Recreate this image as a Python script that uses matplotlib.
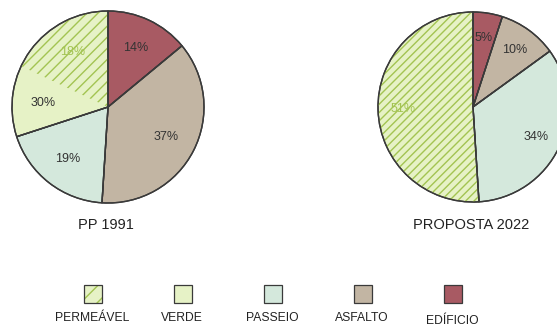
import matplotlib.pyplot as plt
from matplotlib.patches import Rectangle

plt.rcParams['font.family'] = ['Liberation Sans', 'DejaVu Sans']
plt.rcParams['hatch.linewidth'] = 1.0

W, H = 557, 327

# dados
categorias = ['PERMEÁVEL', 'VERDE', 'PASSEIO', 'ASFALTO', 'EDÍFICIO']
cores = {'VERDE': '#e6f2c6', 'PASSEIO': '#d4e8dc', 'ASFALTO': '#c2b5a3', 'EDÍFICIO': '#a85a63'}
verde_hachura = '#a3c452'
borda = '#3a3a3a'

# PP 1991 (sentido horário a partir do topo)
pp1991_cat = ['EDÍFICIO', 'ASFALTO', 'PASSEIO', 'VERDE']
pp1991_val = [14, 37, 19, 30]
pp1991_perm = 18   # parte permeável dentro do verde

# PROPOSTA 2022
prop_cat = ['EDÍFICIO', 'ASFALTO', 'PASSEIO', 'VERDE']
prop_val = [5, 10, 34, 51]
prop_perm = 51

titulos = ['PP 1991', 'PROPOSTA 2022']


def pizza(ax, centro, raio, cats, vals, perm, titulo, dist, hachura):
    cx, cy = centro
    # fatias com borda
    ax.pie(vals, colors=[cores[c] for c in cats], startangle=90, counterclock=False,
           center=(cx, H - cy), radius=raio,
           wedgeprops=dict(edgecolor=borda, linewidth=1.0))
    # fatias para rótulos: o verde é separado em permeável (hachurado) e resto
    resto = vals[-1] - perm
    sub_vals = vals[:-1] + ([resto] if resto > 0 else []) + [perm]
    sub_lbl = ['%d%%' % v for v in vals[:-1]] + (['%d%%' % vals[-1]] if resto > 0 else []) + ['%d%%' % perm]
    wedges, texts = ax.pie(sub_vals, labels=sub_lbl, labeldistance=dist, startangle=90,
                           counterclock=False, center=(cx, H - cy), radius=raio,
                           colors=['none'] * len(sub_vals),
                           wedgeprops=dict(linewidth=0),
                           textprops=dict(fontsize=9, color='#333333', ha='center', va='center'))
    wedges[-1].set_hatch(hachura)
    wedges[-1].set_edgecolor(verde_hachura)
    texts[-1].set_color(verde_hachura)
    for t in texts:
        t.set_ha('center')
    # contorno por cima da hachura
    ax.pie(vals, colors=['none'] * len(vals), startangle=90, counterclock=False,
           center=(cx, H - cy), radius=raio,
           wedgeprops=dict(edgecolor=borda, linewidth=1.0, fill=False))
    ax.text(cx - 2, H - 225, titulo, fontsize=10.5, color='#222222', ha='center', va='center')


fig = plt.figure(figsize=(W / 100, H / 100), dpi=100)
ax = fig.add_axes([0, 0, 1, 1])

pizza(ax, (108, 107), 96, pp1991_cat, pp1991_val, pp1991_perm, titulos[0], 0.68, '///')
pizza(ax, (473, 107), 95, prop_cat, prop_val, prop_perm, titulos[1], 0.74, '////')

# legenda
leg_x = [93, 183, 273, 363, 453]
for x, c in zip(leg_x, categorias):
    if c == 'PERMEÁVEL':
        ax.add_patch(Rectangle((x - 9, H - 303), 18, 18, facecolor=cores['VERDE'],
                               edgecolor=verde_hachura, hatch='//', linewidth=0))
        ax.add_patch(Rectangle((x - 9, H - 303), 18, 18, fill=False, edgecolor=borda, linewidth=0.9))
    else:
        ax.add_patch(Rectangle((x - 9, H - 303), 18, 18, facecolor=cores[c],
                               edgecolor=borda, linewidth=0.9))
    dy = 3 if c == 'EDÍFICIO' else 0
    ax.text(x - 1, H - 318 - dy, c, fontsize=8.7, color='#222222', ha='center', va='center')

ax.set_xlim(0, W)
ax.set_ylim(0, H)
ax.set_aspect('equal')
ax.axis('off')

fig.savefig('out.png', dpi=100)
